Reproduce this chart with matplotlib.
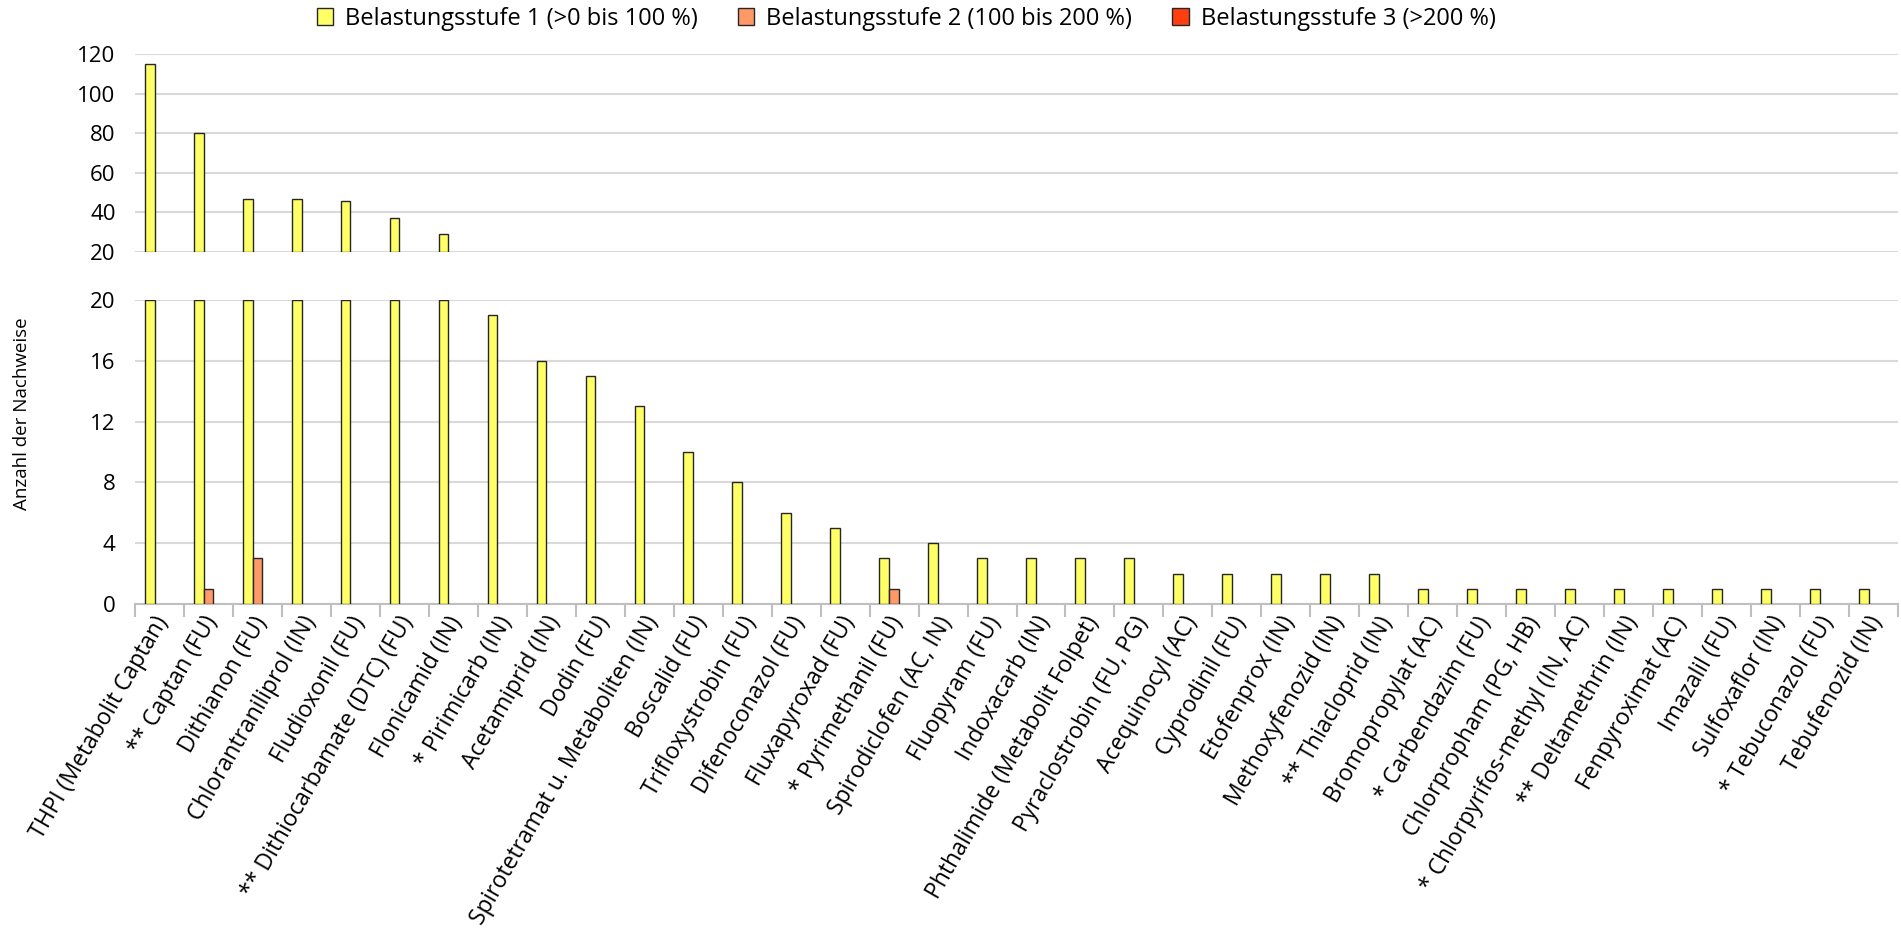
import numpy as np
import matplotlib
matplotlib.use("Agg")
import matplotlib.pyplot as plt

plt.rcParams['font.family'] = ['Open Sans', 'DejaVu Sans']

# Wirkstoffe
labels = [
    "THPI (Metabolit Captan)", "** Captan (FU)", "Dithianon (FU)", "Chlorantraniliprol (IN)",
    "Fludioxonil (FU)", "** Dithiocarbamate (DTC) (FU)", "Flonicamid (IN)", "* Pirimicarb (IN)",
    "Acetamiprid (IN)", "Dodin (FU)", "Spirotetramat u. Metaboliten (IN)", "Boscalid (FU)",
    "Trifloxystrobin (FU)", "Difenoconazol (FU)", "Fluxapyroxad (FU)", "* Pyrimethanil (FU)",
    "Spirodiclofen (AC, IN)", "Fluopyram (FU)", "Indoxacarb (IN)", "Phthalimide (Metabolit Folpet)",
    "Pyraclostrobin (FU, PG)", "Acequinocyl (AC)", "Cyprodinil (FU)", "Etofenprox (IN)",
    "Methoxyfenozid (IN)", "** Thiacloprid (IN)", "Bromopropylat (AC)", "* Carbendazim (FU)",
    "Chlorpropham (PG, HB)", "* Chlorpyrifos-methyl (IN, AC)", "** Deltamethrin (IN)",
    "Fenpyroximat (AC)", "Imazalil (FU)", "Sulfoxaflor (IN)", "* Tebuconazol (FU)", "Tebufenozid (IN)",
]

stufe1 = [115, 80, 47, 47, 46, 37, 29, 19, 16, 15, 13, 10, 8, 6, 5, 3, 4, 3, 3, 3, 3,
          2, 2, 2, 2, 2, 1, 1, 1, 1, 1, 1, 1, 1, 1, 1]
stufe2 = [0, 1, 3, 0, 0, 0, 0, 0, 0, 0, 0, 0, 0, 0, 0, 1, 0, 0, 0, 0, 0,
          0, 0, 0, 0, 0, 0, 0, 0, 0, 0, 0, 0, 0, 0, 0]
stufe3 = [0] * 36

series_names = ["Belastungsstufe 1 (>0 bis 100 %)",
                "Belastungsstufe 2 (100 bis 200 %)",
                "Belastungsstufe 3 (>200 %)"]
colors = ["#FFFF66", "#FF9966", "#FF3F0F"]

BREAK = 20
top_ticks = [20, 40, 60, 80, 100, 120]
bottom_ticks = [0, 4, 8, 12, 16, 20]

W, H = 1901, 930
fig = plt.figure(figsize=(W / 100, H / 100), dpi=100)

left, right = 135 / W, 1898 / W
ax_top = fig.add_axes([left, 1 - 252 / H, right - left, (252 - 54) / H])
ax_bot = fig.add_axes([left, 1 - 604 / H, right - left, (604 - 300) / H])

x = np.arange(len(labels))
w = 0.2
grid_c = "#D9D9D9"
fs = 16.5

handles = []
for i, (vals, c, name) in enumerate(zip([stufe1, stufe2, stufe3], colors, series_names)):
    vals = np.array(vals, dtype=float)
    off = (i - 1) * w
    # unteres Feld: Werte bis zum Achsenbruch
    m = vals > 0
    ax_bot.bar(x[m] + off, np.minimum(vals[m], BREAK), w, color=c,
               edgecolor="#262626", linewidth=1.0, zorder=3)
    # oberes Feld: Anteil über dem Bruch
    mt = vals > BREAK
    ax_top.bar(x[mt] + off, vals[mt] - BREAK, w, bottom=BREAK, color=c,
               edgecolor="#262626", linewidth=1.0, zorder=3)
    handles.append(plt.Rectangle((0, 0), 1, 1, facecolor=c, edgecolor="#262626", linewidth=1.0))

for ax, ticks, lim in [(ax_top, top_ticks, (20, 120)), (ax_bot, bottom_ticks, (0, 20))]:
    ax.set_xlim(-0.5, len(labels) - 0.5)
    ax.set_ylim(*lim)
    ax.set_yticks(ticks)
    ax.yaxis.grid(True, color=grid_c, linewidth=1.5, zorder=0)
    ax.set_axisbelow(True)
    for s in ax.spines.values():
        s.set_visible(False)
    ax.tick_params(axis="y", length=0, pad=14, labelsize=16, colors="black")
    ax.set_facecolor("none")

ax_top.set_xticks([])

ax_bot.spines["bottom"].set_visible(True)
ax_bot.spines["bottom"].set_color("#BFBFBF")
ax_bot.spines["bottom"].set_linewidth(1.5)
ax_bot.set_xticks(np.arange(len(labels) + 1) - 0.5)
ax_bot.set_xticklabels([])
ax_bot.tick_params(axis="x", length=9, width=1.5, color="#BFBFBF", direction="out")
for xi, lab in zip(x, labels):
    ax_bot.annotate(lab, xy=(xi, 0), xycoords=("data", "axes fraction"),
                    xytext=(4, -14), textcoords="offset pixels",
                    rotation=60, rotation_mode="anchor", ha="right", va="center",
                    fontsize=fs)

fig.text(22 / W, 1 - 414 / H, "Anzahl der Nachweise", rotation=90,
         ha="center", va="center", fontsize=13.5)

fig.legend(handles, series_names, loc="center", bbox_to_anchor=(906 / W, 1 - 19 / H),
           ncol=3, frameon=False, fontsize=17, handlelength=0.7, handleheight=0.7,
           handletextpad=0.5, columnspacing=1.7)

fig.savefig("out.png", dpi=100)
